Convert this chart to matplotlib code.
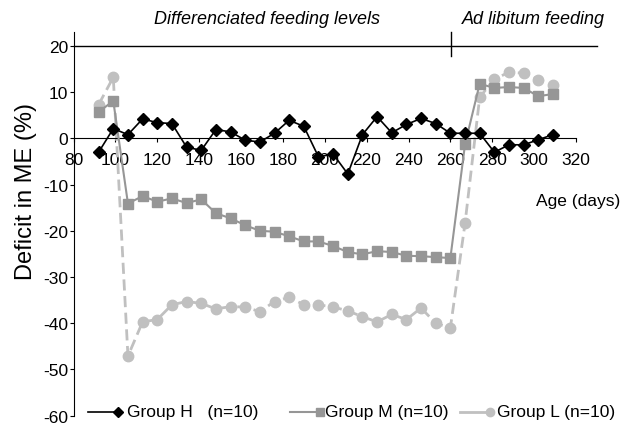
import matplotlib.pyplot as plt
from matplotlib.lines import Line2D

plt.rcParams['font.family'] = ['Liberation Sans', 'DejaVu Sans']
plt.rcParams['axes.unicode_minus'] = False

# age in days (weekly measurements)
days = [92, 99, 106, 113, 120, 127, 134, 141, 148, 155, 162, 169, 176, 183,
        190, 197, 204, 211, 218, 225, 232, 239, 246, 253, 260, 267, 274, 281,
        288, 295, 302, 309]

# deficit in ME (%) per group
group_h = [-3.0, 2.1, 0.8, 4.2, 3.4, 3.2, -1.9, -2.6, 1.9, 1.4, -0.4, -0.8,
           1.1, 3.9, 2.6, -4.0, -3.4, -7.7, 0.8, 4.7, 1.2, 3.0, 4.3, 3.2,
           1.1, 1.1, 1.1, -3.0, -1.4, -1.4, -0.3, 0.8]
group_m = [5.7, 8.1, -14.1, -12.5, -13.7, -13.0, -14.0, -13.2, -16.2, -17.3,
           -18.8, -20.0, -20.2, -21.2, -22.3, -22.3, -23.3, -24.6, -25.1,
           -24.4, -24.6, -25.4, -25.5, -25.7, -25.9, -1.3, 11.8, 10.9, 11.1,
           10.9, 9.1, 9.6]
group_l = [7.3, 13.2, -47.1, -39.7, -39.2, -36.0, -35.3, -35.7, -36.9, -36.4,
           -36.5, -37.5, -35.3, -34.4, -36.0, -36.0, -36.5, -37.3, -38.6,
           -39.7, -38.1, -39.2, -36.7, -40.0, -41.0, -18.4, 8.9, 12.8, 14.3,
           14.1, 12.7, 11.6]

labels = ["Group H   (n=10)", "Group M (n=10)", "Group L (n=10)"]
x_ticks = [80, 100, 120, 140, 160, 180, 200, 220, 240, 260, 280, 300, 320]
y_ticks = [-60, -50, -40, -30, -20, -10, 0, 10, 20]

fig = plt.figure(figsize=(6.25, 4.31), dpi=100)
ax = fig.add_axes([0.1176, 0.0332, 0.804, 0.8902])

ax.plot(days, group_l, color="#c0c0c0", linestyle=(0, (4, 2)), linewidth=2,
        marker="o", markersize=7.5, zorder=2)
ax.plot(days, group_m, color="#969696", linewidth=1.5,
        marker="s", markersize=7.5, zorder=3)
ax.plot(days, group_h, color="black", linewidth=1.2,
        marker="D", markersize=6.5, zorder=4)

ax.set_xlim(80, 320)
ax.set_ylim(-60, 23)
ax.spines["bottom"].set_position(("data", 0))
ax.spines["top"].set_visible(False)
ax.spines["right"].set_visible(False)
ax.set_xticks(x_ticks)
ax.set_yticks(y_ticks)
ax.tick_params(axis="both", labelsize=12.5, length=3, width=0.8, pad=1)
ax.tick_params(axis="x", pad=7)

# feeding period annotation
ax.plot([80, 330], [20, 20], color="black", linewidth=1, clip_on=False)
ax.plot([260.5, 260.5], [17.8, 22.9], color="black", linewidth=1, clip_on=False)
fig.text(0.428, 0.955, "Differenciated feeding levels", style="italic",
         fontsize=13, ha="center", va="center")
fig.text(0.853, 0.955, "Ad libitum feeding", style="italic",
         fontsize=13, ha="center", va="center")

fig.text(0.041, 0.556, "Deficit in ME (%)", rotation=90, fontsize=17,
         ha="center", va="center")
fig.text(0.993, 0.532, "Age (days)", fontsize=12.5, ha="right", va="center")

# legend drawn by hand along the bottom
styles = [
    dict(color="black", linewidth=1.2, marker="D", markersize=5),
    dict(color="#969696", linewidth=1.5, marker="s", markersize=6),
    dict(color="#c0c0c0", linewidth=2, marker="o", markersize=6),
]
handle_x = [88, 290, 460]
text_x = [127, 325, 497]
leg_y = 1 - 413 / 431
for lab, st, hx, tx in zip(labels, styles, handle_x, text_x):
    fig.add_artist(Line2D([hx / 625, (hx + 30) / 625], [leg_y, leg_y],
                          markevery=[1], transform=fig.transFigure, **st))
    fig.text(tx / 625, leg_y, lab, fontsize=12.5, ha="left", va="center")

fig.savefig("out.png", dpi=100)
